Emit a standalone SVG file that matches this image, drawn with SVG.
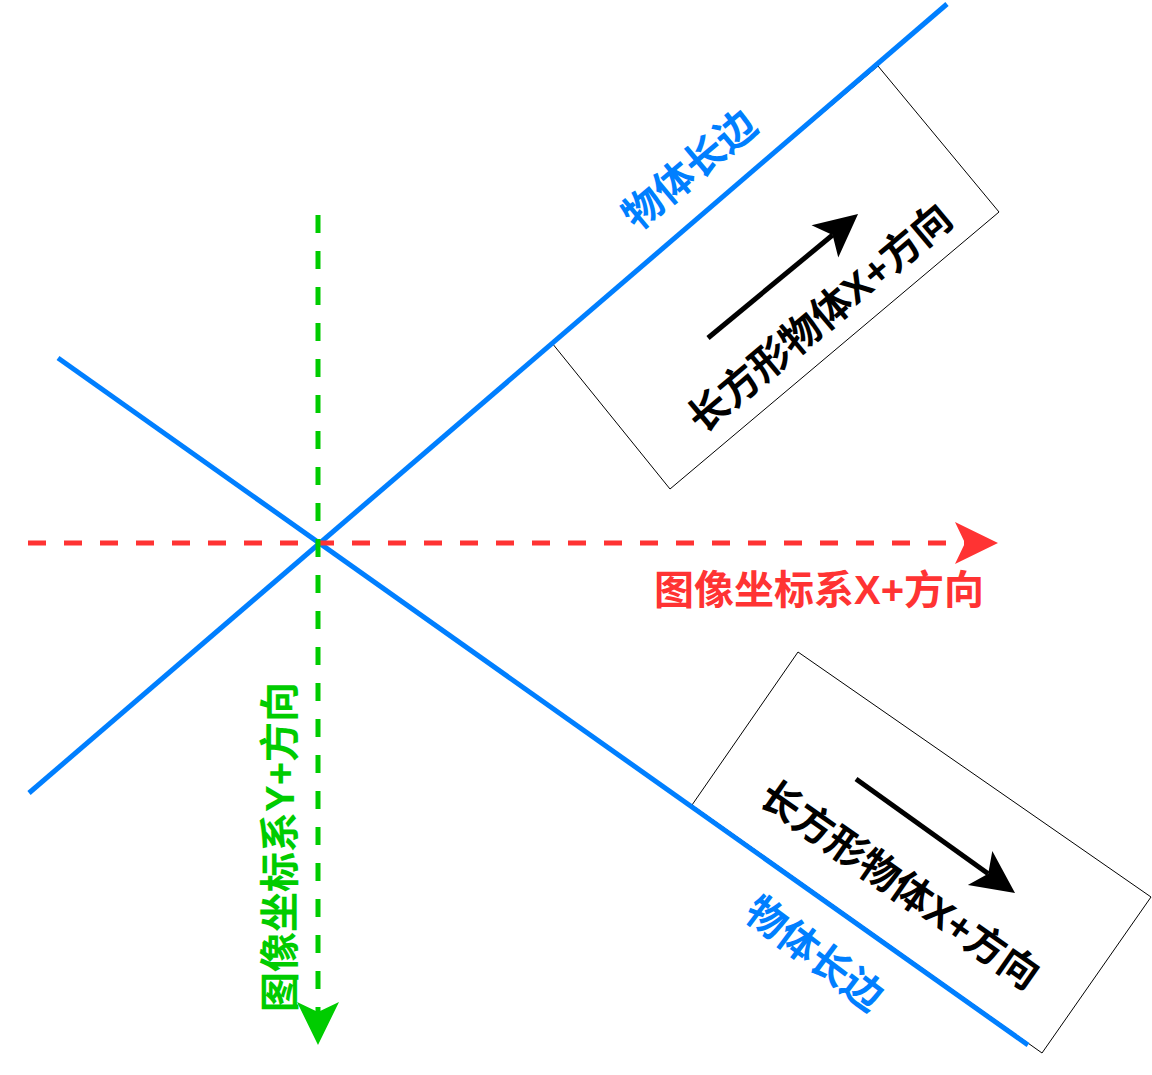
<svg xmlns="http://www.w3.org/2000/svg" width="1152" height="1075" viewBox="0 0 1152 1075">
<style>
.t{font-family:"Liberation Sans","Noto Sans CJK SC",sans-serif;font-weight:bold;text-anchor:middle}
.box{fill:#fff;stroke:#000;stroke-width:1}
.blue{stroke:#007FFF;stroke-width:5;fill:none}
</style>
<defs>
<marker id="ar" markerUnits="userSpaceOnUse" viewBox="-45 -23 47 46" markerWidth="47" markerHeight="46" refX="-33" refY="0" orient="auto" overflow="visible"><path d="M0,0 L-43,-21 L-33,0 L-43,21 Z" fill="#FF3333"/></marker>
<marker id="ag" markerUnits="userSpaceOnUse" viewBox="-45 -23 47 46" markerWidth="47" markerHeight="46" refX="-33" refY="0" orient="auto" overflow="visible"><path d="M0,0 L-43,-21 L-33,0 L-43,21 Z" fill="#00CC00"/></marker>
<marker id="ak" markerUnits="userSpaceOnUse" viewBox="-45 -23 47 46" markerWidth="47" markerHeight="46" refX="-33" refY="0" orient="auto" overflow="visible"><path d="M0,0 L-43,-21 L-33,0 L-43,21 Z" fill="#000"/></marker>
</defs>
<rect width="1152" height="1075" fill="#fff"/>
<g id="box1"><polygon class="box" points="878,66 999,212 670,489 552,343"/></g>
<g id="box2"><polygon class="box" points="798,652 1151,897 1042,1053 692,805"/></g>
<g id="connectors">
<line class="blue" x1="29" y1="793" x2="947" y2="4"/>
<line class="blue" x1="58" y1="358" x2="1028" y2="1045"/>
<line x1="28" y1="543" x2="965" y2="543" stroke="#FF3333" stroke-width="5" stroke-dasharray="18 18" marker-end="url(#ar)"/>
<line x1="318" y1="215" x2="318" y2="1012" stroke="#00CC00" stroke-width="5" stroke-dasharray="18 18" marker-end="url(#ag)"/>
<line x1="708" y1="338" x2="832.6" y2="235" stroke="#000" stroke-width="5" marker-end="url(#ak)"/>
<line x1="856" y1="779" x2="988.2" y2="873.8" stroke="#000" stroke-width="5" marker-end="url(#ak)"/>
</g>
<g id="label-x-image"><text class="t" x="819" y="604" font-size="40" fill="#FF3333">图像坐标系X+方向</text></g>
<g id="label-y-image"><text class="t" transform="translate(280,847) rotate(-90)" x="0" y="14" font-size="40" fill="#00CC00">图像坐标系Y+方向</text></g>
<g id="label-edge1"><text class="t" transform="translate(689,169) rotate(-40)" x="0" y="15" font-size="40" fill="#007FFF">物体长边</text></g>
<g id="label-edge2"><text class="t" transform="translate(815,953) rotate(37)" x="0" y="15" font-size="40" fill="#007FFF">物体长边</text></g>
<g id="label-obj1"><text class="t" transform="translate(820,318) rotate(-40)" x="0" y="14" font-size="40" fill="#000">长方形物体X+方向</text></g>
<g id="label-obj2"><text class="t" transform="translate(900,885) rotate(35)" x="0" y="14" font-size="40" fill="#000">长方形物体X+方向</text></g>
</svg>
